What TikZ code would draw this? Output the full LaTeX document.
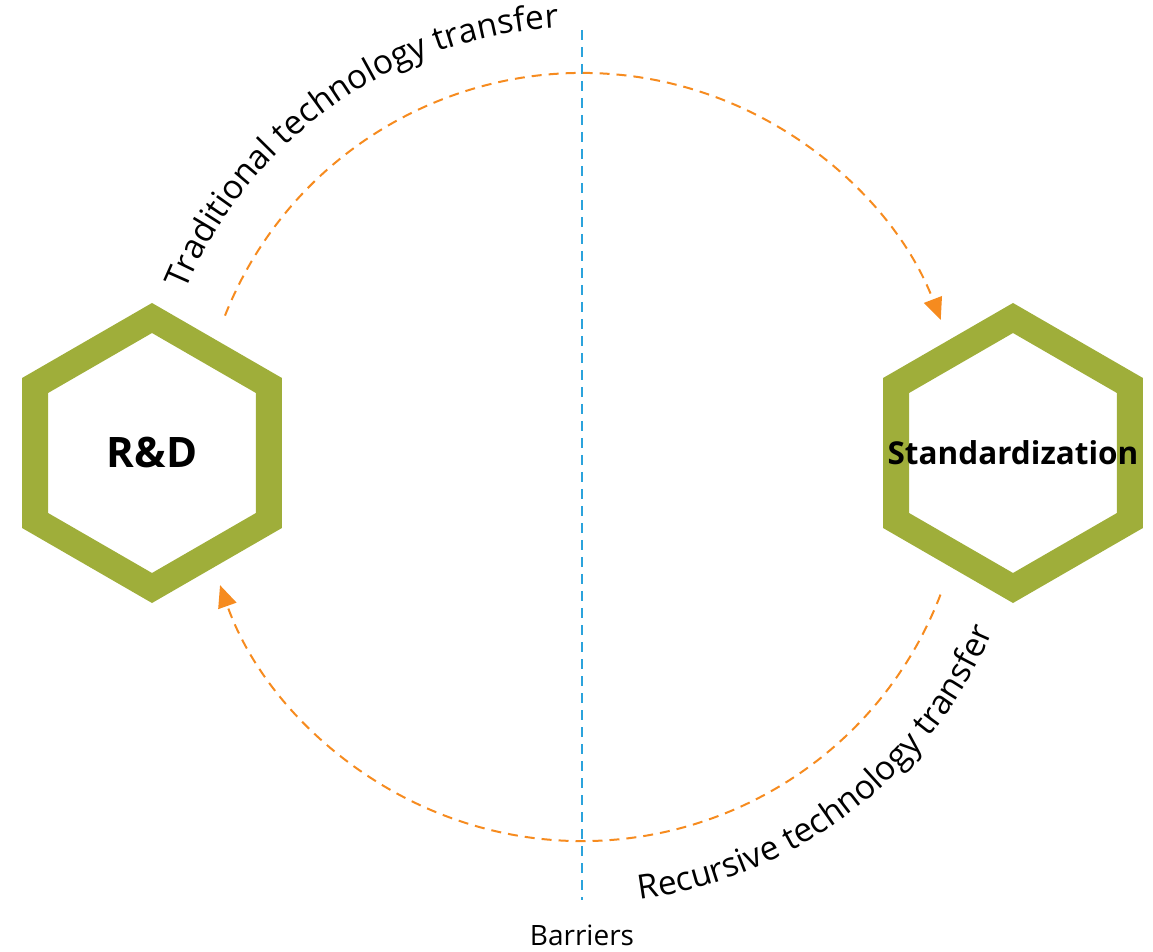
\documentclass[tikz,border=0pt]{standalone}
\usepackage{fontspec}
\setmainfont{Open Sans}
\usetikzlibrary{shapes.geometric,arrows.meta,decorations.text}
\definecolor{hexgreen}{HTML}{9FAE3A}
\definecolor{flowor}{HTML}{F68B1F}
\definecolor{wallblue}{HTML}{2BA3DC}
\newcommand{\arclabel}{\fontsize{33.5}{40}\selectfont}
\begin{document}
\begin{tikzpicture}[x=1pt, y=1pt, font=\fontsize{28}{34}\selectfont,
  hexa/.style={regular polygon, regular polygon sides=6, shape border rotate=30, minimum size=270pt, inner sep=0pt, draw=hexgreen, line width=26pt, line join=miter},
  flow/.style={draw=flowor, line width=2pt, dash pattern=on 10pt off 7pt, -{Triangle[length=22pt,width=19pt,fill=flowor]}},
  hexlabel/.style={font=\bfseries\fontsize{#1}{#1}\selectfont, inner sep=0pt}]
\useasboundingbox (0,0) rectangle (1153,951);
\coordinate (hub) at (582,494); \coordinate (wallT) at (582,921); \coordinate (wallB) at (582,51);
% barrier line
\draw[wallblue, line width=2.5pt, dash pattern=on 10pt off 7pt] (wallT) -- (wallB);
\node[anchor=base] (barriers) at (582,6) {Barriers};
% the two stages
\node[hexa] (rd) at (152,498) {}; \node[hexa] (std) at (1013,498) {};
\node[hexlabel=42] (rdtext) at (rd) {R\&D}; \node[hexlabel=31.5] (stdtext) at (std) {Standardization};
% transfer loops
\draw[flow] ([shift={(158.4:384)}]hub) arc[start angle=158.4, end angle=20.9, radius=384];
\draw[flow] ([shift={(-21:384)}]hub) arc[start angle=-21, end angle=-160.5, radius=384];
\path[decorate, decoration={text along path, text align=center, text={|\arclabel|Traditional technology transfer}}] ([shift={(170.2:430)}]hub) arc[start angle=170.2, end angle=80.2, radius=430];
\path[decorate, decoration={text along path, text align=center, text={|\arclabel|Recursive technology transfer}}] ([shift={(-97.8:446)}]hub) arc[start angle=-97.8, end angle=-7.8, radius=446];
\end{tikzpicture}
\end{document}
